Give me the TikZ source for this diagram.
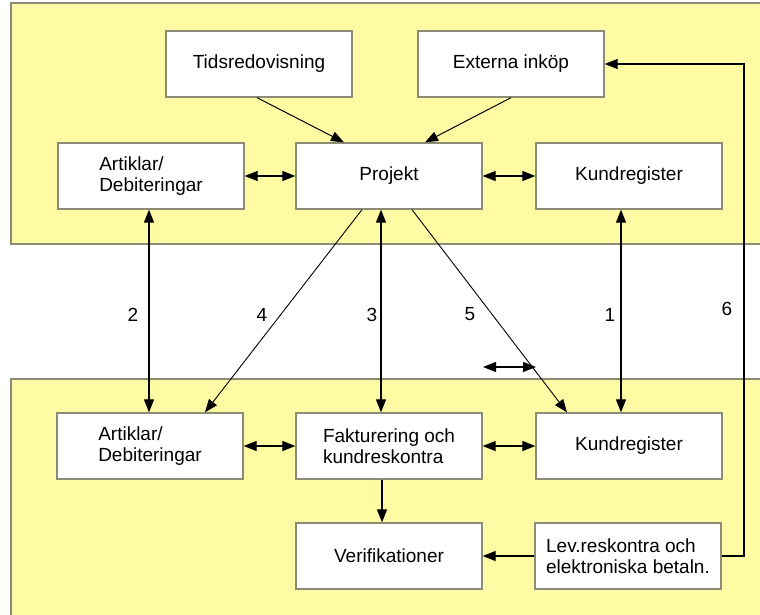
\documentclass[tikz,border=0pt]{standalone}
\usepackage{fontspec}
\setmainfont{Liberation Sans}
\usetikzlibrary{arrows.meta}
\definecolor{panelyellow}{RGB}{255,251,165}
\definecolor{panelgray}{RGB}{140,140,118}
\begin{document}
\begin{tikzpicture}[x=1pt,y=-1pt,
		box/.style={draw=panelgray,line width=1.3pt,fill=white,minimum width=186pt,minimum height=66pt,align=left,font=\fontsize{19}{21}\selectfont},
		panel/.style={draw=panelgray,line width=1.3pt,fill=panelyellow},
		tip/.style={line width=1.2pt,-{Triangle[length=13pt,width=10pt]}},
		twotip/.style={line width=1.2pt,{Triangle[length=13pt,width=10pt]}-{Triangle[length=13pt,width=10pt]}},
		num/.style={font=\fontsize{19}{21}\selectfont}]
			\useasboundingbox (0,0) rectangle (760,614);
			\fill[white] (0,0) rectangle (760,614);

			% the two panels
			\draw[panel] (11,3) rectangle (775,244);
			\draw[panel] (11,379) rectangle (775,630);

			% upper panel
			\node[box] (tids) at (259,64) {Tidsredovisning};
			\node[box] (ext) at (511,64) {Externa inköp};
			\node[box] (art1) at (151,176) {Artiklar/\\Debiteringar};
			\node[box] (proj) at (389,176) {Projekt};
			\node[box] (kund1) at (629,176) {Kundregister};

			% lower panel
			\node[box] (art2) at (150,446) {Artiklar/\\Debiteringar};
			\node[box] (fakt) at (389,446) {Fakturering och\\kundreskontra};
			\node[box] (kund2) at (629,446) {Kundregister};
			\node[box] (verif) at (389,556) {Verifikationer};
			\node[box] (lev) at (628,556) {Lev.reskontra och\\elektroniska betaln.};

			\draw[tip,line width=1pt] ([xshift=-2pt]tids.south) -- ([xshift=-45pt]proj.north);
			\draw[tip,line width=1pt] (ext.south) -- ([xshift=36pt]proj.north);
			\draw[twotip] (art1.east) -- (proj.west);
			\draw[twotip] (proj.east) -- (kund1.west);

			% between the panels
			\draw[twotip] ([xshift=-2pt]art1.south) -- ([xshift=-1pt]art2.north);
			\draw[tip,line width=0.9pt] ([xshift=-27pt]proj.south) -- ([xshift=55pt]art2.north);
			\draw[twotip] ([xshift=-8pt]proj.south) -- ([xshift=-8pt]fakt.north);
			\draw[tip,line width=0.9pt] ([xshift=23pt]proj.south) -- ([xshift=-62pt]kund2.north);
			\draw[twotip] ([xshift=-8pt]kund1.south) -- ([xshift=-8pt]kund2.north);

			\coordinate (leftend) at (483,367);
			\coordinate (rightend) at (536,367);
			\draw[twotip] (leftend) -- (rightend);

			\coordinate (bend) at (744,0);
			\draw[tip] (lev.east) -- (lev.east -| bend) |- (ext.east);

			\draw[twotip] (art2.east) -- (fakt.west);
			\draw[twotip] (fakt.east) -- (kund2.west);
			\draw[tip] ([xshift=-7pt]fakt.south) -- ([xshift=-7pt]verif.north);
			\draw[tip] (lev.west) -- (verif.east);

			% numbers
			\node[num] (n2) at (133,315) {2};
			\node[num] (n4) at (262,315) {4};
			\node[num] (n3) at (372,315) {3};
			\node[num] (n5) at (470,314) {5};
			\node[num] (n1) at (610,315) {1};
			\node[num] (n6) at (727,309) {6};
		\end{tikzpicture}
\end{document}
